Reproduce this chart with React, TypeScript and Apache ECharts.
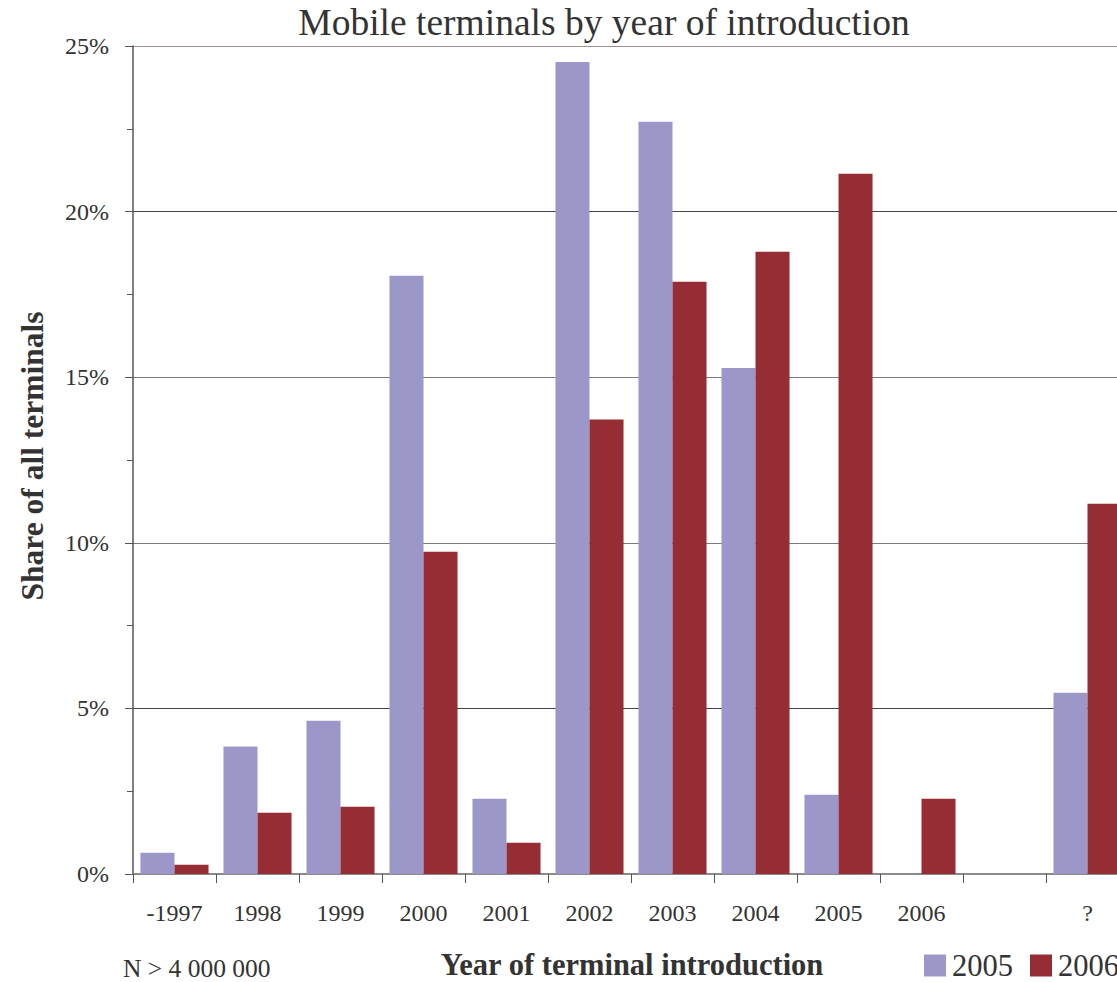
import React, { useEffect, useRef } from "react";
import * as echarts from "echarts";

const categories = ["-1997", "1998", "1999", "2000", "2001", "2002", "2003", "2004", "2005", "2006", "", "?"];
const series2005 = [0.64, 3.85, 4.63, 18.06, 2.27, 24.52, 22.71, 15.28, 2.39, 0, 0, 5.47];
const series2006 = [0.28, 1.85, 2.03, 9.73, 0.94, 13.72, 17.88, 18.79, 21.14, 2.27, 0, 11.18];
const seriesNames = ["2005", "2006"];
const titleText = "Mobile terminals by year of introduction";
const yAxisName = "Share of all terminals";
const xAxisName = "Year of terminal introduction";
const noteText = "N > 4 000 000";

const FONT = "'Liberation Serif', 'Times New Roman', serif";
const TEXT = "#333333";

export default function App() {
  const ref = useRef<HTMLDivElement>(null);
  useEffect(() => {
    if (!ref.current) return;
    const chart = echarts.init(ref.current, undefined, { renderer: "svg" });
    chart.setOption({
      animation: false,
      backgroundColor: "#ffffff",
      textStyle: { fontFamily: FONT, color: TEXT },
      grid: { left: 133, top: 46, width: 996, height: 828, containLabel: false },
      legend: {
        data: seriesNames,
        left: 924,
        top: 950,
        padding: 0,
        icon: "rect",
        itemWidth: 22,
        itemHeight: 22,
        itemGap: 17,
        textStyle: { fontFamily: FONT, fontSize: 30.5, lineHeight: 24, color: TEXT, padding: [0, 0, 0, 1] },
      },
      xAxis: {
        type: "category",
        data: categories,
        axisLine: { lineStyle: { color: "#8a8a8a", width: 2 } },
        axisTick: { show: true, alignWithLabel: false, length: 9, lineStyle: { color: "#555" } },
        axisLabel: { interval: 0, margin: 27, fontSize: 24, color: TEXT, fontFamily: FONT },
        splitLine: { show: false },
      },
      yAxis: {
        type: "value",
        min: 0,
        max: 25,
        interval: 5,
        axisLine: { show: true, lineStyle: { color: "#555", width: 1.5 } },
        axisTick: { show: true, length: 8, lineStyle: { color: "#555" } },
        minorTick: { show: true, splitNumber: 2, length: 6, lineStyle: { color: "#555" } },
        axisLabel: { formatter: "{value}%", margin: 24, fontSize: 24, color: TEXT, fontFamily: FONT },
        splitLine: {
          show: true,
          lineStyle: { color: ["#444", "#444", "#7a7a7a", "#7a7a7a", "#444", "#a09090"], width: 1.2 },
        },
      },
      series: [
        {
          name: seriesNames[0],
          type: "bar",
          data: series2005,
          barGap: "0%",
          barCategoryGap: "18%",
          itemStyle: { color: "#9C97C9" },
        },
        {
          name: seriesNames[1],
          type: "bar",
          data: series2006,
          barGap: "0%",
          barCategoryGap: "18%",
          itemStyle: { color: "#962D35" },
        },
      ],
      graphic: [
        {
          type: "text",
          x: 604,
          y: 22,
          style: {
            text: titleText,
            fontFamily: FONT,
            fontSize: 37.5,
            fill: TEXT,
            textAlign: "center",
            textVerticalAlign: "middle",
          },
        },
        {
          type: "text",
          x: 32,
          y: 456,
          rotation: Math.PI / 2,
          style: {
            text: yAxisName,
            fontFamily: FONT,
            fontSize: 31.5,
            fontWeight: "bold",
            fill: TEXT,
            textAlign: "center",
            textVerticalAlign: "middle",
          },
        },
        {
          type: "text",
          x: 632,
          y: 965,
          style: {
            text: xAxisName,
            fontFamily: FONT,
            fontSize: 30.5,
            lineHeight: 28,
            fontWeight: "bold",
            fill: TEXT,
            textAlign: "center",
            textVerticalAlign: "middle",
          },
        },
        {
          type: "text",
          x: 123,
          y: 968,
          style: {
            text: noteText,
            fontFamily: FONT,
            fontSize: 25.5,
            lineHeight: 22,
            fill: TEXT,
            textAlign: "left",
            textVerticalAlign: "middle",
          },
        },
      ],
    });
    return () => chart.dispose();
  }, []);
  return (
    <div
      style={{
        position: "absolute",
        left: 0,
        top: 0,
        width: 1117,
        height: 982,
        overflow: "hidden",
        background: "#fff",
      }}
    >
      <div ref={ref} style={{ width: 1160, height: 982 }} />
    </div>
  );
}
